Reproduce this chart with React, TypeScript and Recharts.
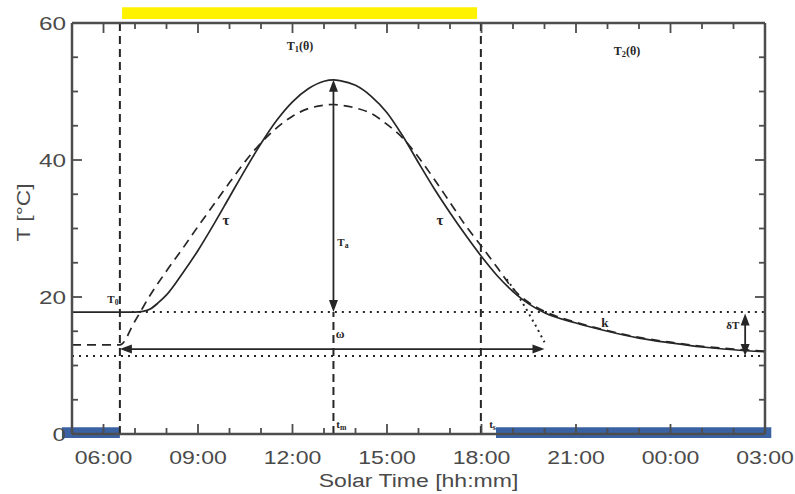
import React from 'react';
import {
  ComposedChart,
  Line,
  XAxis,
  YAxis,
  ReferenceLine,
  ReferenceArea,
  ReferenceDot,
} from 'recharts';

// solar time in hours (24+ = after midnight) and surface temperature in °C
const solidHours = [5, 6, 7, 7.25, 7.5, 7.75, 8, 8.5, 9, 9.5, 10, 10.5, 11, 11.5, 12, 12.5, 13, 13.3, 13.5, 14, 14.5, 15, 15.5, 16, 16.5, 17, 17.5, 18, 18.5, 19, 19.5, 20, 21, 22, 23, 24, 25, 26, 27];
const solidTemp = [17.8, 17.8, 17.8, 17.9, 18.3, 19.2, 20.3, 23.4, 26.8, 30.6, 34.6, 38.6, 42.4, 45.8, 48.5, 50.4, 51.5, 51.7, 51.6, 50.9, 49.3, 46.9, 43.5, 39.6, 35.8, 32.3, 29.0, 25.9, 23.1, 20.8, 19.0, 17.7, 16.2, 15.0, 14.0, 13.3, 12.7, 12.3, 12.0];

const dashedHours = [5, 6, 6.52, 7, 7.5, 8, 8.5, 9, 9.5, 10, 10.5, 11, 11.5, 12, 12.5, 13, 13.3, 13.5, 14, 14.5, 15, 15.5, 16, 16.5, 17, 17.5, 18, 18.5, 19, 19.5, 20, 21, 22, 23, 24, 25, 26, 27];
const dashedTemp = [13.0, 13.0, 13.0, 16.5, 20.4, 23.8, 27.0, 30.3, 33.5, 36.7, 39.8, 42.5, 44.7, 46.4, 47.5, 48.0, 48.1, 48.0, 47.6, 46.8, 45.2, 43.2, 40.4, 37.2, 33.8, 30.4, 27.4, 24.3, 21.2, 19.2, 17.9, 16.3, 15.1, 14.1, 13.4, 12.8, 12.4, 12.1];

const dottedHours = [18.8, 19.2, 19.6, 20.0];
const dottedTemp = [22.6, 19.9, 16.8, 13.4];

const hourTicks = [5, 6, 7, 8, 9, 10, 11, 12, 13, 14, 15, 16, 17, 18, 19, 20, 21, 22, 23, 24, 25, 26, 27];
const xTickLabels: Record<number, string> = {
  6: '06:00', 9: '09:00', 12: '12:00', 15: '15:00', 18: '18:00', 21: '21:00', 24: '00:00', 27: '03:00',
};
const tempTicks = [0, 5, 10, 15, 20, 25, 30, 35, 40, 45, 50, 55, 60];
const yTickLabels = [0, 20, 40, 60];

// key times / levels of the model
const sunrise = 6.52;
const sunset = 17.98;
const tMax = 13.3;
const tPeak = 51.7;
const T0 = 17.8;
const Tnight = 11.4;
const omegaLevel = 12.4;
const omegaEnd = 20.0;
const deltaTHour = 26.37;
const deltaTTop = 17.6;

const INK = '#262626';
const AXIS = '#4d4d4d';
const TXT = '#4a4a4a';
const SX = 1.28;
const TICK = 6; // minor tick length, majors get +4px

const toRows = (hs: number[], ts: number[]) => hs.map((h, i) => ({ h, t: ts[i] }));
const solidData = toRows(solidHours, solidTemp);
const dashedData = toRows(dashedHours, dashedTemp);
const dottedData = toRows(dottedHours, dottedTemp);

const annotations = [
  { h: 12.24, t: 56.5, main: 'T', sub: '1', tail: '(θ)', size: 12 },
  { h: 22.62, t: 55.8, main: 'T', sub: '2', tail: '(θ)', size: 12 },
  { h: 6.3, t: 19.6, main: 'T', sub: '0', tail: '', size: 11 },
  { h: 13.6, t: 27.9, main: 'T', sub: 'a', tail: '', size: 11 },
  { h: 9.89, t: 30.9, main: 'τ', sub: '', tail: '', size: 15 },
  { h: 16.68, t: 30.9, main: 'τ', sub: '', tail: '', size: 15 },
  { h: 13.51, t: 14.4, main: 'ω', sub: '', tail: '', size: 12 },
  { h: 21.92, t: 16.0, main: 'k', sub: '', tail: '', size: 13 },
  { h: 25.98, t: 15.8, main: 'δT', sub: '', tail: '', size: 11 },
  { h: 13.55, t: 1.3, main: 't', sub: 'm', tail: '', size: 11 },
  { h: 18.35, t: 1.3, main: 't', sub: 's', tail: '', size: 11 },
];

const axisFont = 'Liberation Sans, Arial, sans-serif';

// tick props x/y sit on the axis line (tickSize + tickMargin = 0)
const BottomTick = (p: any) => {
  const label = xTickLabels[p.payload.value];
  if (!label) return <g />;
  return (
    <g>
      <line x1={p.x} x2={p.x} y1={p.y - TICK} y2={p.y - TICK - 4} stroke={AXIS} strokeWidth={1.8} />
      <text transform={`translate(${p.x},${p.y + 30}) scale(${SX},1)`} textAnchor="middle" fontSize={18} fill={TXT} fontFamily={axisFont}>
        {label}
      </text>
    </g>
  );
};

const TopTick = (p: any) => {
  if (xTickLabels[p.payload.value] === undefined) return <g />;
  return <line x1={p.x} x2={p.x} y1={p.y + TICK} y2={p.y + TICK + 4} stroke={AXIS} strokeWidth={1.8} />;
};

const LeftTick = (p: any) => {
  if (!yTickLabels.includes(p.payload.value)) return <g />;
  return (
    <g>
      <line x1={p.x + TICK} x2={p.x + TICK + 4} y1={p.y} y2={p.y} stroke={AXIS} strokeWidth={1.8} />
      <text transform={`translate(${p.x - 6},${p.y + 7}) scale(${SX},1)`} textAnchor="end" fontSize={19} fill={TXT} fontFamily={axisFont}>
        {p.payload.value}
      </text>
    </g>
  );
};

const RightTick = (p: any) => {
  if (!yTickLabels.includes(p.payload.value)) return <g />;
  return <line x1={p.x - TICK} x2={p.x - TICK - 4} y1={p.y} y2={p.y} stroke={AXIS} strokeWidth={1.8} />;
};

const arrowHead = (dir: 'up' | 'down' | 'left' | 'right') => (p: any) => {
  const { cx, cy } = p;
  const L = 12;
  const W = 4.5;
  let pts = '';
  if (dir === 'up') pts = `${cx},${cy} ${cx - W},${cy + L} ${cx + W},${cy + L}`;
  if (dir === 'down') pts = `${cx},${cy} ${cx - W},${cy - L} ${cx + W},${cy - L}`;
  if (dir === 'left') pts = `${cx},${cy} ${cx + L},${cy - W} ${cx + L},${cy + W}`;
  if (dir === 'right') pts = `${cx},${cy} ${cx - L},${cy - W} ${cx - L},${cy + W}`;
  return <polygon points={pts} fill={INK} />;
};

const noteShape = (a: (typeof annotations)[number]) => (p: any) => (
  <text x={p.cx} y={p.cy} textAnchor="middle" dominantBaseline="middle" fontFamily="Liberation Serif, Times New Roman, serif" fontWeight="bold" fontSize={a.size} fill={INK}>
    <tspan>{a.main}</tspan>
    {a.sub && <tspan fontSize={a.size * 0.7} dy={3}>{a.sub}</tspan>}
    {a.tail && <tspan dy={-3}>{a.tail}</tspan>}
  </text>
);

const tickStyle = { stroke: AXIS, strokeWidth: 1.8 };
const lineStyle = { stroke: AXIS, strokeWidth: 2.5 };

export default function App() {
  return (
    <div style={{ position: 'absolute', left: 0, top: 0, background: '#fff' }}>
      <ComposedChart width={795} height={494} margin={{ top: 22, right: 29, bottom: 0, left: 0 }}>
        <XAxis
          dataKey="h"
          type="number"
          domain={[5, 27]}
          ticks={hourTicks}
          interval={0}
          allowDataOverflow
          height={60}
          tickSize={-TICK}
          tickMargin={TICK}
          tickLine={tickStyle}
          tick={BottomTick}
          axisLine={lineStyle}
          label={{
            content: (p: any) => (
              <text transform={`translate(${p.viewBox.x + p.viewBox.width / 2},${p.viewBox.y + 53}) scale(${SX},1)`} textAnchor="middle" fontSize={18} fill={TXT} fontFamily={axisFont}>
                Solar Time [hh:mm]
              </text>
            ),
          }}
        />
        <XAxis
          xAxisId="top"
          dataKey="h"
          type="number"
          orientation="top"
          domain={[5, 27]}
          ticks={hourTicks}
          interval={0}
          allowDataOverflow
          height={1}
          tickSize={-TICK}
          tickMargin={TICK}
          tickLine={tickStyle}
          tick={TopTick}
          axisLine={lineStyle}
        />
        <YAxis
          type="number"
          domain={[0, 60]}
          ticks={tempTicks}
          interval={0}
          allowDataOverflow
          width={72}
          tickSize={-TICK}
          tickMargin={TICK}
          tickLine={tickStyle}
          tick={LeftTick}
          axisLine={lineStyle}
          label={{
            content: (p: any) => (
              <text transform={`translate(${p.viewBox.x + 30},${p.viewBox.y + p.viewBox.height / 2 - 16}) rotate(-90) scale(1.2,1)`} textAnchor="middle" fontSize={19} fill={TXT} fontFamily={axisFont}>
                T [°C]
              </text>
            ),
          }}
        />
        <YAxis
          yAxisId="right"
          orientation="right"
          type="number"
          domain={[0, 60]}
          ticks={tempTicks}
          interval={0}
          allowDataOverflow
          width={1}
          tickSize={-TICK}
          tickMargin={TICK}
          tickLine={tickStyle}
          tick={RightTick}
          axisLine={lineStyle}
        />

        {/* day / night bars */}
        <ReferenceArea x1={6.59} x2={17.86} y1={60.6} y2={62.3} fill="#fff200" fillOpacity={1} stroke="none" ifOverflow="visible" />
        <ReferenceArea x1={4.68} x2={sunrise} y1={-0.6} y2={1.0} fill="#3a62a2" fillOpacity={1} stroke="none" ifOverflow="visible" />
        <ReferenceArea x1={18.46} x2={27.2} y1={-0.6} y2={1.0} fill="#3a62a2" fillOpacity={1} stroke="none" ifOverflow="visible" />

        {/* guide lines */}
        <ReferenceLine x={sunrise} stroke={INK} strokeWidth={2} strokeDasharray="8 5" />
        <ReferenceLine x={sunset} stroke={INK} strokeWidth={2} strokeDasharray="8 5" />
        <ReferenceLine segment={[{ x: tMax, y: 0 }, { x: tMax, y: T0 }]} stroke={INK} strokeWidth={2} strokeDasharray="8 5" />
        <ReferenceLine segment={[{ x: 6.9, y: T0 }, { x: 27, y: T0 }]} stroke={INK} strokeWidth={2} strokeDasharray="2 5" />
        <ReferenceLine y={Tnight} stroke={INK} strokeWidth={2} strokeDasharray="2 5" />

        {/* arrows */}
        <ReferenceLine segment={[{ x: tMax, y: T0 + 1 }, { x: tMax, y: tPeak - 1 }]} stroke={INK} strokeWidth={1.8} />
        <ReferenceDot x={tMax} y={tPeak} shape={arrowHead('up')} />
        <ReferenceDot x={tMax} y={T0} shape={arrowHead('down')} />
        <ReferenceLine segment={[{ x: sunrise + 0.3, y: omegaLevel }, { x: omegaEnd - 0.3, y: omegaLevel }]} stroke={INK} strokeWidth={1.8} />
        <ReferenceDot x={sunrise} y={omegaLevel} shape={arrowHead('left')} />
        <ReferenceDot x={omegaEnd} y={omegaLevel} shape={arrowHead('right')} />
        <ReferenceLine segment={[{ x: deltaTHour, y: Tnight + 1 }, { x: deltaTHour, y: deltaTTop - 1 }]} stroke={INK} strokeWidth={1.8} />
        <ReferenceDot x={deltaTHour} y={deltaTTop} shape={arrowHead('up')} />
        <ReferenceDot x={deltaTHour} y={Tnight} shape={arrowHead('down')} />

        {/* model curves */}
        <Line data={dashedData} dataKey="t" type="monotone" stroke={INK} strokeWidth={1.7} strokeDasharray="9 6" dot={false} isAnimationActive={false} />
        <Line data={dottedData} dataKey="t" type="monotone" stroke={INK} strokeWidth={2} strokeDasharray="2 4" dot={false} isAnimationActive={false} />
        <Line data={solidData} dataKey="t" type="monotone" stroke={INK} strokeWidth={1.7} dot={false} isAnimationActive={false} />

        {annotations.map((a, i) => (
          <ReferenceDot key={i} x={a.h} y={a.t} shape={noteShape(a)} />
        ))}
      </ComposedChart>
    </div>
  );
}
